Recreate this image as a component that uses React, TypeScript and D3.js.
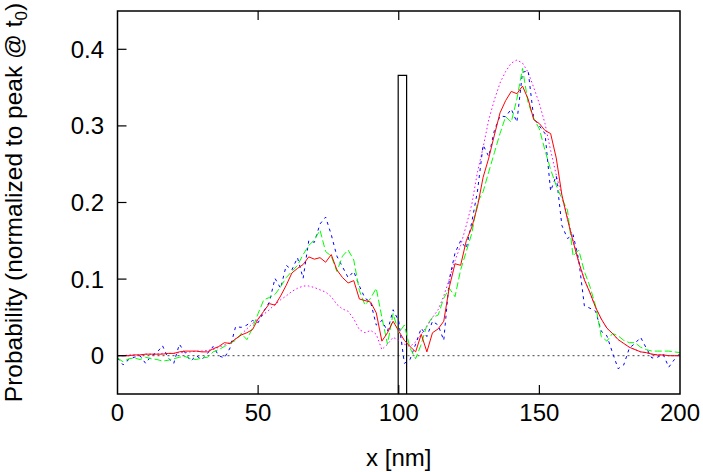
import React from "react";
import * as d3 from "d3";

const xTicks = [0, 50, 100, 150, 200];
const yTicks = [0, 0.1, 0.2, 0.3, 0.4];
const yTickLabels = ["0", "0.1", "0.2", "0.3", "0.4"];

// sample positions (nm)
const xs = [
  0, 2, 4, 6, 8, 10, 12, 14, 16, 18, 20, 22, 24, 26, 28, 30, 32, 34, 36, 38,
  40, 42, 44, 46, 48, 50, 52, 54, 56, 58, 60, 62, 64, 66, 68, 70, 72, 74, 76, 78,
  80, 82, 84, 86, 88, 90, 92, 94, 96, 98, 100, 102, 104, 106, 108, 110, 112, 114, 116, 118,
  120, 122, 124, 126, 128, 130, 132, 134, 136, 138, 140, 142, 144, 146, 148, 150, 152, 154, 156, 158,
  160, 162, 164, 166, 168, 170, 172, 174, 176, 178, 180, 182, 184, 186, 188, 190, 192, 194, 196, 198, 200,
];

const redY = [
  0.0, 0.0, 0.0, 0.001, 0.001, 0.002, 0.002, 0.002, 0.002, 0.003, 0.003, 0.005, 0.006, 0.006, 0.006, 0.005, 0.005, 0.009, 0.012, 0.017,
  0.016, 0.022, 0.027, 0.03, 0.034, 0.048, 0.058, 0.068, 0.066, 0.078, 0.092, 0.108, 0.114, 0.119, 0.129, 0.126, 0.128, 0.122, 0.132, 0.112,
  0.102, 0.095, 0.098, 0.074, 0.072, 0.07, 0.056, 0.019, 0.03, 0.045, 0.032, 0.02, 0.012, 0.005, 0.028, 0.005, 0.03, 0.035, 0.045, 0.09,
  0.12, 0.118, 0.15, 0.168, 0.195, 0.233, 0.258, 0.288, 0.317, 0.333, 0.345, 0.342, 0.352, 0.335, 0.308, 0.303, 0.294, 0.29, 0.258, 0.21,
  0.178, 0.149, 0.122, 0.099, 0.082, 0.063, 0.048, 0.036, 0.029, 0.021, 0.016, 0.011, 0.008, 0.005, 0.004, 0.002, 0.001, 0.001, 0.0, 0.0, 0.0,
];

const greenY = [
  -0.003, -0.008, -0.004, -0.003, -0.005, -0.002, -0.004, -0.005, -0.007, -0.006, -0.004, -0.002, -0.001, -0.004, -0.005, -0.003, -0.002, 0.005, 0.008, 0.012,
  0.016, 0.02, 0.029, 0.021, 0.036, 0.055, 0.073, 0.076, 0.08, 0.09, 0.102, 0.11, 0.118, 0.132, 0.144, 0.151, 0.164, 0.136, 0.13, 0.11,
  0.13, 0.138, 0.125, 0.085, 0.066, 0.075, 0.088, 0.05, 0.015, 0.055, 0.03, 0.04, 0.01, -0.004, 0.015, 0.04, 0.05, 0.053, 0.075, 0.088,
  0.077, 0.112, 0.136, 0.16, 0.2, 0.214, 0.24, 0.265, 0.29, 0.312, 0.305, 0.335, 0.375, 0.33, 0.31, 0.296, 0.268, 0.243, 0.222, 0.205,
  0.19, 0.13, 0.138, 0.11, 0.09, 0.065, 0.025, 0.019, 0.029, 0.026, 0.02, 0.017, 0.017, 0.011, 0.008, 0.006, 0.006, 0.006, 0.006, 0.005, 0.004,
];

const blueY = [
  -0.003, -0.012, -0.005, -0.002, 0.0, -0.01, 0.0, 0.004, 0.013, -0.003, -0.01, 0.015, 0.004, -0.007, 0.0, -0.005, 0.003, 0.012, 0.0, -0.003,
  0.01, 0.038, 0.037, 0.04, 0.046, 0.043, 0.058, 0.07, 0.101, 0.088, 0.118, 0.112, 0.128, 0.101, 0.15, 0.148, 0.172, 0.181, 0.158, 0.13,
  0.116, 0.102, 0.11, 0.091, 0.075, 0.07, 0.04, 0.046, 0.032, 0.06, 0.045, -0.01, -0.005, 0.015, 0.036, 0.025, 0.045, 0.04, 0.02, 0.1,
  0.134, 0.15, 0.14, 0.175, 0.215, 0.275, 0.26, 0.294, 0.313, 0.312, 0.322, 0.305, 0.37, 0.372, 0.31, 0.3, 0.29, 0.215, 0.235, 0.17,
  0.153, 0.158, 0.125, 0.065, 0.062, 0.058, 0.032, 0.026, 0.004, -0.017, -0.012, 0.01, 0.016, 0.024, 0.01, -0.003, -0.002, 0.002, -0.015, -0.005, 0.003,
];

const magentaY = [
  0.0, 0.0, 0.001, 0.001, 0.001, 0.002, 0.002, 0.002, 0.003, 0.003, 0.003, 0.004, 0.004, 0.005, 0.006, 0.006, 0.007, 0.008, 0.011, 0.014,
  0.017, 0.022, 0.028, 0.035, 0.042, 0.048, 0.054, 0.06, 0.067, 0.073, 0.078, 0.084, 0.088, 0.091, 0.091, 0.089, 0.086, 0.083, 0.077, 0.067,
  0.061, 0.058, 0.048, 0.034, 0.03, 0.033, 0.028, 0.008, 0.015, 0.024, 0.02, 0.015, 0.012, 0.018, 0.028, 0.038, 0.05, 0.06, 0.078, 0.1,
  0.124, 0.144, 0.17, 0.198, 0.24, 0.272, 0.308, 0.334, 0.356, 0.371, 0.382, 0.386, 0.382, 0.37, 0.35, 0.329, 0.303, 0.268, 0.236, 0.208,
  0.18, 0.15, 0.123, 0.1, 0.082, 0.063, 0.048, 0.036, 0.029, 0.021, 0.016, 0.011, 0.008, 0.005, 0.004, 0.002, 0.001, 0.001, 0.0, 0.0, 0.0,
];

const barrierX = [99.8, 99.8, 102.8, 102.8];
const barrierY = [-0.06, 0.366, 0.366, -0.06];

const W = 703;
const H = 472;
const left = 117.5;
const right = 680;
const top = 11;
const bottom = 394;
const FONT = "'Liberation Sans', Arial, Helvetica, sans-serif";

export default function App() {
  const x = d3.scaleLinear().domain([0, 200]).range([left, right]);
  const y = d3.scaleLinear().domain([-0.05, 0.45]).range([bottom, top]);

  const line = d3
    .line<[number, number]>()
    .x((d) => x(d[0]))
    .y((d) => y(d[1]));

  const pts = (ys: number[]) => xs.map((xv, i) => [xv, ys[i]] as [number, number]);
  const barrier = barrierX.map((xv, i) => [xv, barrierY[i]] as [number, number]);

  const series = [
    { ys: magentaY, color: "#ff00ff", dash: "1.5,2.5" },
    { ys: blueY, color: "#0000ff", dash: "3,4" },
    { ys: greenY, color: "#00ff00", dash: "7,3" },
    { ys: redY, color: "#ff0000", dash: undefined as string | undefined },
  ];

  return (
    <svg
      width={W}
      height={H}
      style={{ position: "absolute", left: 0, top: 0, background: "#fff" }}
      fontFamily={FONT}
    >
      <defs>
        <clipPath id="plotclip">
          <rect x={left} y={top} width={right - left} height={bottom - top} />
        </clipPath>
      </defs>
      {/* zero line */}
      <line
        x1={x(0)}
        x2={x(200)}
        y1={y(0)}
        y2={y(0)}
        stroke="#444"
        strokeWidth={1}
        strokeDasharray="2,3"
      />
      <g clipPath="url(#plotclip)">
        <path d={line(barrier) || ""} fill="none" stroke="#000" strokeWidth={1.2} />
        {series.map((s, i) => (
          <path
            key={i}
            d={line(pts(s.ys)) || ""}
            fill="none"
            stroke={s.color}
            strokeWidth={1}
            strokeDasharray={s.dash}
          />
        ))}
      </g>
      {/* frame */}
      <rect
        x={left}
        y={top}
        width={right - left}
        height={bottom - top}
        fill="none"
        stroke="#000"
        strokeWidth={1.5}
      />
      {/* x ticks */}
      {xTicks.map((t) => (
        <g key={"x" + t}>
          {t > 0 && t < 200 && (
            <>
              <line x1={x(t)} x2={x(t)} y1={bottom} y2={bottom - 9} stroke="#000" strokeWidth={1.2} />
              <line x1={x(t)} x2={x(t)} y1={top} y2={top + 9} stroke="#000" strokeWidth={1.2} />
            </>
          )}
          <text x={x(t)} y={421} textAnchor="middle" fontSize={24} fill="#000">
            {t}
          </text>
        </g>
      ))}
      {/* y ticks */}
      {yTicks.map((t, i) => (
        <g key={"y" + t}>
          <line x1={left} x2={left + 9} y1={y(t)} y2={y(t)} stroke="#000" strokeWidth={1.2} />
          <text x={104} y={y(t) + 8.5} textAnchor="end" fontSize={24} fill="#000">
            {yTickLabels[i]}
          </text>
        </g>
      ))}
      <text x={(left + right) / 2} y={466} textAnchor="middle" fontSize={24} fill="#000">
        x [nm]
      </text>
      <text
        transform={`translate(22, ${(top + bottom) / 2}) rotate(-90)`}
        textAnchor="middle"
        fontSize={24.5}
        fill="#000"
      >
        Probability (normalized to peak @ t
        <tspan fontSize={17} dy={5}>0</tspan>
        <tspan dy={-5}>)</tspan>
      </text>
    </svg>
  );
}
